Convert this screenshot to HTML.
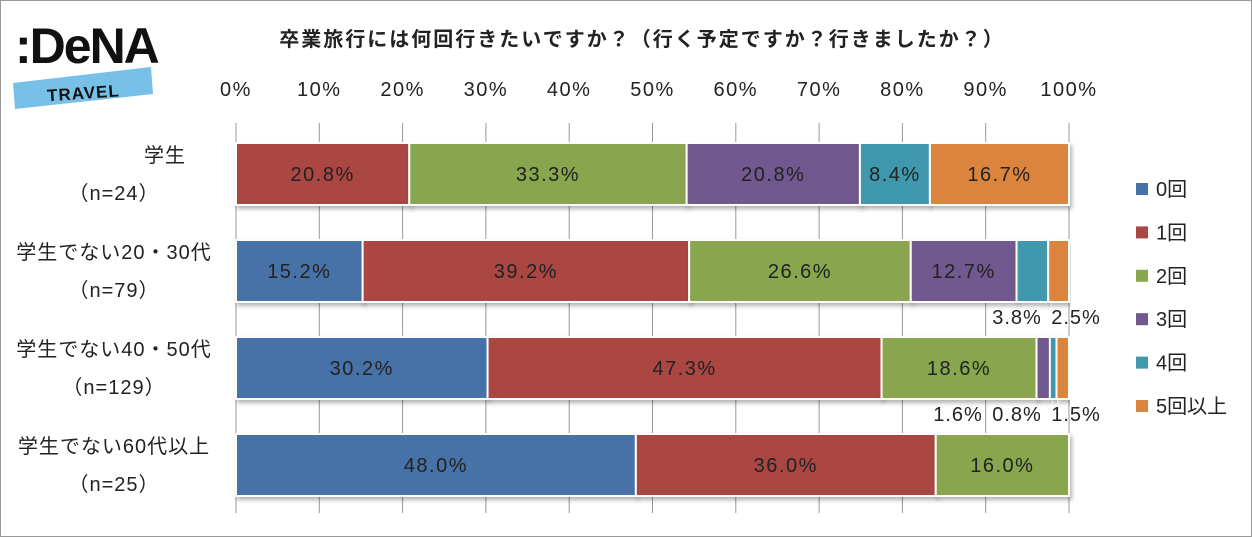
<!DOCTYPE html>
<html><head><meta charset="utf-8"><style>
body{margin:0;background:#fff;}
#wrap{position:relative;width:1250px;height:535px;border:1px solid #999;overflow:hidden;font-family:"Liberation Sans","Noto Sans CJK JP",sans-serif;}
text{font-family:"Liberation Sans","Noto Sans CJK JP",sans-serif;}
</style></head><body>
<div id="wrap">
<svg id="chart" width="1250" height="535">
<defs><filter id="sh" x="-5%" y="-20%" width="110%" height="150%"><feDropShadow dx="2" dy="3" stdDeviation="2" flood-color="#000" flood-opacity="0.3"/></filter></defs>
<g>
<text x="14" y="62" font-size="50" font-weight="bold" fill="#111" font-family="Liberation Sans, sans-serif" letter-spacing="-2">:DeNA</text>
<polygon points="12,82 150,66 152,93 14,108" fill="#77c0e8"/>
<text x="46" y="98" font-size="17" font-weight="bold" fill="#111" letter-spacing="1" transform="rotate(-4 80 92)">TRAVEL</text>
</g>
<text x="641" y="45" text-anchor="middle" font-size="20" font-weight="bold" fill="#222" letter-spacing="2">卒業旅行には何回行きたいですか？（行く予定ですか？行きましたか？）</text>
<g id="grid"></g><g id="bars"></g><g id="legend"></g>
</svg>
</div>
<script>
const categories=["学生|（n=24）","学生でない20・30代|（n=79）","学生でない40・50代|（n=129）","学生でない60代以上|（n=25）"];
const seriesNames=["0回","1回","2回","3回","4回","5回以上"];
const s0=[0,15.2,30.2,48.0];
const s1=[20.8,39.2,47.3,36.0];
const s2=[33.3,26.6,18.6,16.0];
const s3=[20.8,12.7,1.6,0];
const s4=[8.4,3.8,0.8,0];
const s5=[16.7,2.5,1.5,0];
const ticks=[0,10,20,30,40,50,60,70,80,90,100];
const colors=["#4672a8","#aa4643","#89a54e","#71588f","#4198af","#db843d"];
const series=[s0,s1,s2,s3,s4,s5];
const NS="http://www.w3.org/2000/svg";
const x=v=>235+v*8.33;
const yc=i=>173+i*97;
const BH=62;
function mk(t,a,p){const e=document.createElementNS(NS,t);for(const k in a)e.setAttribute(k,a[k]);p.appendChild(e);return e;}
const grid=document.getElementById('grid'),bars=document.getElementById('bars'),leg=document.getElementById('legend');
ticks.forEach(t=>{
 const l=mk('line',{x1:x(t),x2:x(t),y1:122,y2:512,stroke:'#999','stroke-width':1},grid);
 
 
 const tx=mk('text',{x:x(t),y:95,'text-anchor':'middle','font-size':20,'letter-spacing':1.5,fill:'#222'},grid);
 tx.textContent=t+'%';
 
 
});
categories.forEach((c,i)=>{
 const parts=c.split('|');
 parts.forEach((p,j)=>{
  const t=mk('text',{x:j==0&&i==0?164:113,y:yc(i)-12+j*38,'text-anchor':'middle','font-size':20,'letter-spacing':1,fill:'#222'},bars);
  t.textContent=p;
  
  
 });
 let cum=0;const small=[];
 series.forEach((s,k)=>{
  const v=s[i];if(v<=0){return;}
  const r=mk('rect',{x:x(cum),y:yc(i)-BH/2,width:v*8.33,height:BH,fill:colors[k],stroke:'#fff','stroke-width':2,filter:'url(#sh)'},bars);
  
  
  if(v>=5){
   const t=mk('text',{x:x(cum+v/2),y:yc(i)+7,'text-anchor':'middle','font-size':20,'letter-spacing':1.5,fill:'#222'},bars);
   t.textContent=v.toFixed(1)+'%';
   
   
  } else small.push(v);
  cum+=v;
 });
 small.forEach((v,j)=>{
  const t=mk('text',{x:1075-(small.length-1-j)*59,y:yc(i)+BH/2+22,'text-anchor':'middle','font-size':20,'letter-spacing':1,fill:'#222'},bars);
  t.textContent=v.toFixed(1)+'%';
  
  
 });
});
seriesNames.forEach((n,k)=>{
 const y=188+k*43.4;
 const r=mk('rect',{x:1135,y:y-6,width:12,height:12,fill:colors[k]},leg);
 
 
 const t=mk('text',{x:1155,y:y+7,'font-size':20,fill:'#222'},leg);
 t.textContent=n;
 
 
});
</script>
</body></html>
